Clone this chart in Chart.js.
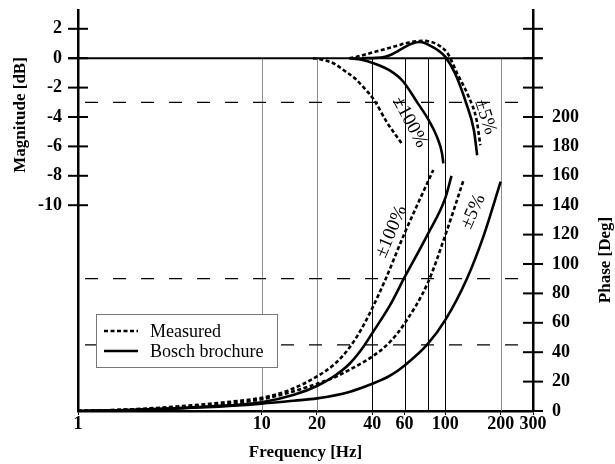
<!DOCTYPE html>
<html>
<head>
<meta charset="utf-8">
<script src="https://cdn.jsdelivr.net/npm/chart.js@4"></script>
<style>
  html, body { margin: 0; padding: 0; background: #fff; }
  #wrap { width: 615px; height: 464px; }
</style>
</head>
<body>
<div id="wrap"><canvas id="c" width="615" height="464"></canvas></div>
<script>
// Axis ticks
const freqTicks = [1, 10, 20, 40, 60, 100, 200, 300];
const freqGrid = [10, 20, 40, 60, 80, 100, 200];
const magTicks = [-10, -8, -6, -4, -2, 0, 2];
const phaseTicks = [0, 20, 40, 60, 80, 100, 120, 140, 160, 180, 200];
const phaseMarks = [0, 20, 40, 60, 80, 100, 120, 140, 160, 180, 200, 220, 240, 260];

// Magnitude response [dB]
const magMeas100Hz = [19, 21, 24.7, 28, 32, 36, 41, 48, 58.6];
const magMeas100Db = [0, -0.08, -0.36, -0.82, -1.35, -2.0, -2.86, -4.35, -5.9];
const magBosch100Hz = [30, 35, 41, 50, 58.6, 70, 81, 90, 96, 97.5];
const magBosch100Db = [0, -0.1, -0.36, -0.85, -1.55, -2.97, -4.2, -5.35, -6.5, -7.16];
const magMeas5Hz = [30, 33, 37.6, 45.6, 55, 60, 65.5, 75.8, 92, 103, 116, 134, 148, 155];
const magMeas5Db = [0, 0.1, 0.29, 0.58, 0.86, 1.0, 1.11, 1.18, 0.88, 0.32, -1.04, -2.63, -4.22, -5.92];
const magBosch5Hz = [35, 42, 47, 51, 55, 60, 66, 73, 84, 92, 100, 113, 130, 143, 149];
const magBosch5Db = [0, 0.02, 0.1, 0.25, 0.47, 0.75, 1.0, 1.1, 0.8, 0.5, 0.09, -1.04, -3.08, -4.9, -6.6];

// Phase response [deg]
const phaseMeas100Hz = [1, 2, 4.3, 7, 10, 14, 20, 25, 30, 35, 40, 47, 60, 72, 86];
const phaseMeas100Deg = [0, 1.2, 4, 6.5, 9, 14, 23.5, 32, 43, 56, 70, 89, 121, 143, 164];
const phaseBosch100Hz = [1, 2, 5, 10, 15, 20, 25, 30, 35, 40, 50, 60, 80, 100, 108];
const phaseBosch100Deg = [0, 0.8, 3, 6, 11, 17, 24, 32, 42, 53, 72, 91, 120, 145, 160];
const phaseMeas5Hz = [1, 2, 5, 10, 15, 20, 25, 30, 40, 50, 60, 80, 100, 126];
const phaseMeas5Deg = [0, 1, 3.2, 8, 13.5, 18.5, 23, 28, 37, 47, 59.6, 86.8, 119.7, 157.6];
const phaseBosch5Hz = [1, 2, 5, 10, 15, 20, 30, 40, 50, 60, 80, 100, 131, 161, 200];
const phaseBosch5Deg = [0, 0.7, 2.5, 5, 7, 8.6, 13, 18.5, 24, 31, 45.5, 62, 90, 118.6, 156];

// Curve annotations: [text, frequency, value, axis, angle in degrees]
const curveNotes = [
  ['\u00b1100%', 64, -4.35, 'mag', 62],
  ['\u00b15%', 165, -4.0, 'mag', 72],
  ['\u00b1100%', 50.8, 122, 'phase', -67],
  ['\u00b15%', 142, 135.6, 'phase', -66]
];

const SERIF = '"Liberation Serif", "Times New Roman", serif';
const pts = (xs, ys) => xs.map((x, i) => ({ x: x, y: ys[i] }));
const dashed = { borderDash: [4, 2.5], borderWidth: 2.6 };
const solid = { borderDash: [], borderWidth: 2.6 };
const base = { borderColor: '#000', backgroundColor: '#000', pointRadius: 0, fill: false,
               cubicInterpolationMode: 'monotone', borderCapStyle: 'butt' };

// keep the plot box fixed: no extra room for half tick labels
const noPad = s => { s.paddingTop = 0; s.paddingBottom = 0; s.paddingLeft = 0; s.paddingRight = 0; };

const frame = {
  id: 'frame',
  beforeDatasetsDraw(chart) {
    const ctx = chart.ctx, a = chart.chartArea;
    const x = chart.scales.x, m = chart.scales.mag, p = chart.scales.phase;
    const y0 = m.getPixelForValue(0);
    ctx.save();
    // vertical frequency lines below the 0 dB line
    freqGrid.forEach(f => {
      const px = Math.round(x.getPixelForValue(f)) + 0.5;
      ctx.strokeStyle = (f === 10 || f === 20 || f === 200) ? '#8c8c8c' : '#000';
      ctx.lineWidth = 1;
      ctx.beginPath(); ctx.moveTo(px, y0); ctx.lineTo(px, a.bottom); ctx.stroke();
    });
    // 0 dB reference
    ctx.strokeStyle = '#000';
    ctx.lineWidth = 2;
    ctx.beginPath(); ctx.moveTo(a.left - 10, y0); ctx.lineTo(a.right + 9, y0); ctx.stroke();
    // -3 dB, 90 deg and 45 deg guides
    ctx.lineWidth = 1.2;
    ctx.setLineDash([13, 15]);
    [m.getPixelForValue(-3), p.getPixelForValue(90), p.getPixelForValue(45)].forEach(py => {
      ctx.beginPath(); ctx.moveTo(a.left + 7, py); ctx.lineTo(a.right - 3, py); ctx.stroke();
    });
    ctx.restore();
  },
  afterDraw(chart) {
    const ctx = chart.ctx, a = chart.chartArea;
    const x = chart.scales.x, m = chart.scales.mag, p = chart.scales.phase;
    ctx.save();
    // tick marks crossing the vertical axes
    ctx.strokeStyle = '#000';
    ctx.lineWidth = 2;
    magTicks.forEach(v => {
      const py = m.getPixelForValue(v);
      ctx.beginPath(); ctx.moveTo(a.left - 10, py); ctx.lineTo(a.left + 10, py); ctx.stroke();
    });
    phaseMarks.forEach(v => {
      const py = p.getPixelForValue(v);
      ctx.beginPath(); ctx.moveTo(a.right - 10, py); ctx.lineTo(a.right + 10, py); ctx.stroke();
    });

    // legend
    const lx = 96, ly = 314, lw = 181, lh = 53;
    ctx.fillStyle = '#fff';
    ctx.fillRect(lx, ly, lw, lh);
    ctx.strokeStyle = '#777';
    ctx.lineWidth = 1;
    ctx.strokeRect(lx + 0.5, ly + 0.5, lw, lh);
    const items = chart.data.datasets.slice(0, 2);
    items.forEach((ds, i) => {
      const cy = ly + 17 + i * 20;
      ctx.strokeStyle = '#000';
      ctx.lineWidth = ds.borderWidth;
      ctx.setLineDash(ds.borderDash);
      ctx.beginPath(); ctx.moveTo(lx + 8, cy); ctx.lineTo(lx + 42, cy); ctx.stroke();
      ctx.setLineDash([]);
      ctx.fillStyle = '#000';
      ctx.font = '18px ' + SERIF;
      ctx.textAlign = 'left';
      ctx.textBaseline = 'middle';
      ctx.fillText(ds.label, lx + 54, cy + 1);
    });

    // curve annotations
    ctx.font = '19px ' + SERIF;
    ctx.textAlign = 'center';
    ctx.textBaseline = 'middle';
    curveNotes.forEach(([t, f, v, ax, ang]) => {
      const px = x.getPixelForValue(f);
      const py = (ax === 'mag' ? m : p).getPixelForValue(v);
      ctx.save();
      ctx.translate(px, py);
      ctx.rotate(ang * Math.PI / 180);
      ctx.fillText(t, 0, 0);
      ctx.restore();
    });

    // vertical axis titles
    ctx.font = 'bold 17px ' + SERIF;
    ctx.save();
    ctx.translate(21, 115);
    ctx.rotate(-Math.PI / 2);
    ctx.fillText('Magnitude [dB]', 0, 0);
    ctx.restore();
    ctx.save();
    ctx.translate(606, 260);
    ctx.rotate(-Math.PI / 2);
    ctx.fillText('Phase [Deg]', 0, 0);
    ctx.restore();
    ctx.restore();
  }
};

const tickFont = { family: SERIF, weight: 'bold', size: 18, lineHeight: 1 };

new Chart(document.getElementById('c'), {
  type: 'line',
  data: {
    datasets: [
      Object.assign({ label: 'Measured', data: pts(magMeas100Hz, magMeas100Db), yAxisID: 'mag' }, base, dashed),
      Object.assign({ label: 'Bosch brochure', data: pts(magBosch100Hz, magBosch100Db), yAxisID: 'mag' }, base, solid),
      Object.assign({ label: 'Measured \u00b15%', data: pts(magMeas5Hz, magMeas5Db), yAxisID: 'mag' }, base, dashed),
      Object.assign({ label: 'Bosch \u00b15%', data: pts(magBosch5Hz, magBosch5Db), yAxisID: 'mag' }, base, solid),
      Object.assign({ label: 'Phase measured \u00b1100%', data: pts(phaseMeas100Hz, phaseMeas100Deg), yAxisID: 'phase' }, base, dashed),
      Object.assign({ label: 'Phase Bosch \u00b1100%', data: pts(phaseBosch100Hz, phaseBosch100Deg), yAxisID: 'phase' }, base, solid),
      Object.assign({ label: 'Phase measured \u00b15%', data: pts(phaseMeas5Hz, phaseMeas5Deg), yAxisID: 'phase' }, base, dashed),
      Object.assign({ label: 'Phase Bosch \u00b15%', data: pts(phaseBosch5Hz, phaseBosch5Deg), yAxisID: 'phase' }, base, solid)
    ]
  },
  options: {
    responsive: false,
    animation: false,
    devicePixelRatio: 1,
    layout: { padding: { top: 10, left: 0, right: 0, bottom: 0 } },
    plugins: { legend: { display: false }, tooltip: { enabled: false } },
    scales: {
      x: {
        type: 'logarithmic', min: 1, max: 300,
        afterBuildTicks: s => { s.ticks = freqTicks.map(v => ({ value: v })); },
        afterFit: s => { s.height = 53; noPad(s); },
        ticks: { autoSkip: false, maxRotation: 0, minRotation: 0, color: '#000', font: tickFont, padding: 0,
                 callback: v => String(v) },
        grid: { display: true, drawOnChartArea: false, drawTicks: true, tickLength: 4, color: '#000', lineWidth: 1 },
        border: { display: true, color: '#000', width: 2.5 },
        title: { display: true, text: 'Frequency [Hz]', color: '#000',
                 font: { family: SERIF, weight: 'bold', size: 17 }, padding: { top: 0, bottom: 1 } }
      },
      mag: {
        type: 'linear', position: 'left', min: -24, max: 3.279,
        afterBuildTicks: s => { s.ticks = magTicks.map(v => ({ value: v })); },
        afterFit: s => { s.width = 78; noPad(s); },
        ticks: { color: '#000', font: tickFont, padding: 16, callback: v => String(v) },
        grid: { display: false, drawTicks: false },
        border: { display: true, color: '#000', width: 2.5 }
      },
      phase: {
        type: 'linear', position: 'right', min: 0, max: 272.79,
        afterBuildTicks: s => { s.ticks = phaseTicks.map(v => ({ value: v })); },
        afterFit: s => { s.width = 82; noPad(s); },
        ticks: { color: '#000', font: tickFont, padding: 19, callback: v => String(v) },
        grid: { display: false, drawTicks: false },
        border: { display: true, color: '#000', width: 2.5 }
      }
    }
  },
  plugins: [frame]
});
</script>
</body>
</html>
